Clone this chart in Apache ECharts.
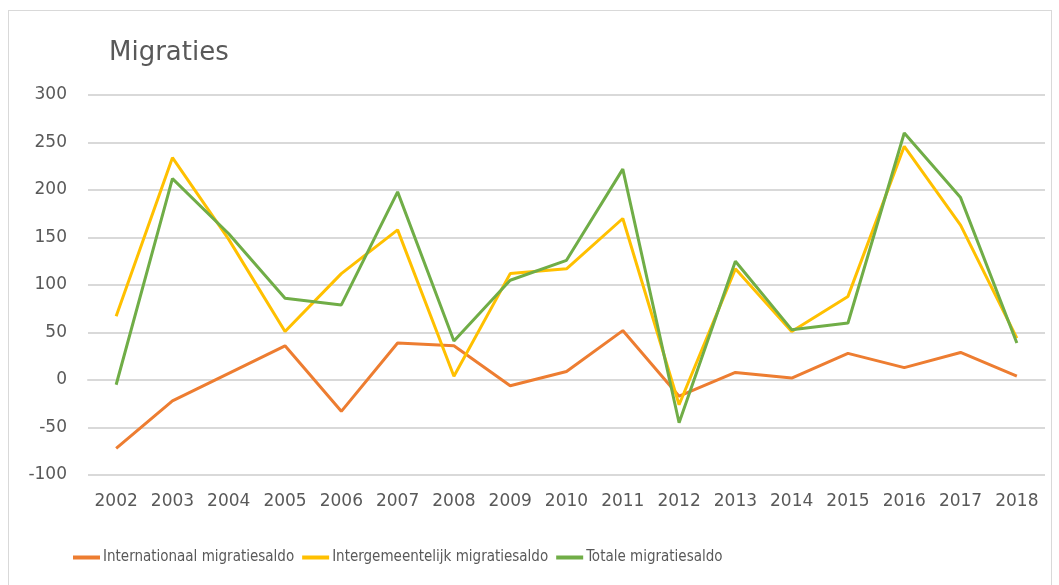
<!DOCTYPE html>
<html>
<head>
<meta charset="utf-8">
<script src="https://cdn.jsdelivr.net/npm/echarts@6/dist/echarts.min.js"></script>
<style>
  html, body { margin: 0; padding: 0; background: #fff; }
  #frame { position: absolute; left: 8px; top: 10px; width: 1042px; height: 580px; border: 1px solid #d9d9d9; }
  #main { position: absolute; left: 0; top: 0; width: 1059px; height: 585px; }
</style>
</head>
<body>
<div id="frame"></div>
<div id="main"></div>
<script>
  var years = ['2002', '2003', '2004', '2005', '2006', '2007', '2008', '2009', '2010',
               '2011', '2012', '2013', '2014', '2015', '2016', '2017', '2018'];
  var internationaal = [-72, -22, 7, 36, -33, 39, 36, -6, 9, 52, -17, 8, 2, 28, 13, 29, 4];
  var intergemeentelijk = [67, 234, 148, 51, 112, 158, 4, 112, 117, 170, -26, 117, 51, 88, 246, 163, 44];
  var totaal = [-5, 212, 154, 86, 79, 198, 41, 105, 126, 222, -45, 125, 53, 60, 260, 192, 39];

  var myChart = echarts.init(document.getElementById('main'));

  var txt = '#595959';
  function lineSeries(name, data, color) {
    return {
      name: name,
      type: 'line',
      data: data,
      symbol: 'none',
      lineStyle: { color: color, width: 3 },
      itemStyle: { color: color }
    };
  }

  var option = {
    animation: false,
    title: {
      text: 'Migraties',
      left: 104,
      top: 35,
      textStyle: { fontFamily: 'DejaVu Sans', fontSize: 26, fontWeight: 'normal', color: txt }
    },
    legend: {
      data: ['Internationaal migratiesaldo', 'Intergemeentelijk migratiesaldo', 'Totale migratiesaldo'],
      left: 68,
      top: 545,
      icon: 'rect',
      itemWidth: 27,
      itemHeight: 4,
      itemGap: 8,
      textStyle: { fontFamily: 'DejaVu Sans Condensed, DejaVu Sans', fontSize: 15, color: txt, padding: [0, 0, 0, -2] }
    },
    grid: { left: 88, right: 14, top: 95, bottom: 110 },
    xAxis: {
      type: 'category',
      data: years,
      boundaryGap: true,
      axisLine: { lineStyle: { color: '#d9d9d9', width: 2 } },
      axisTick: { show: false },
      axisLabel: { color: txt, fontFamily: 'DejaVu Sans', fontSize: 17, margin: 18 }
    },
    yAxis: {
      type: 'value',
      min: -100,
      max: 300,
      interval: 50,
      axisLine: { show: false },
      axisTick: { show: false },
      axisLabel: { color: txt, fontFamily: 'DejaVu Sans', fontSize: 17, margin: 21 },
      splitLine: { lineStyle: { color: '#d9d9d9', width: 2 } }
    },
    series: [
      lineSeries('Internationaal migratiesaldo', internationaal, '#ED7D31'),
      lineSeries('Intergemeentelijk migratiesaldo', intergemeentelijk, '#FFC000'),
      lineSeries('Totale migratiesaldo', totaal, '#70AD47')
    ]
  };

  myChart.setOption(option);
</script>
</body>
</html>
